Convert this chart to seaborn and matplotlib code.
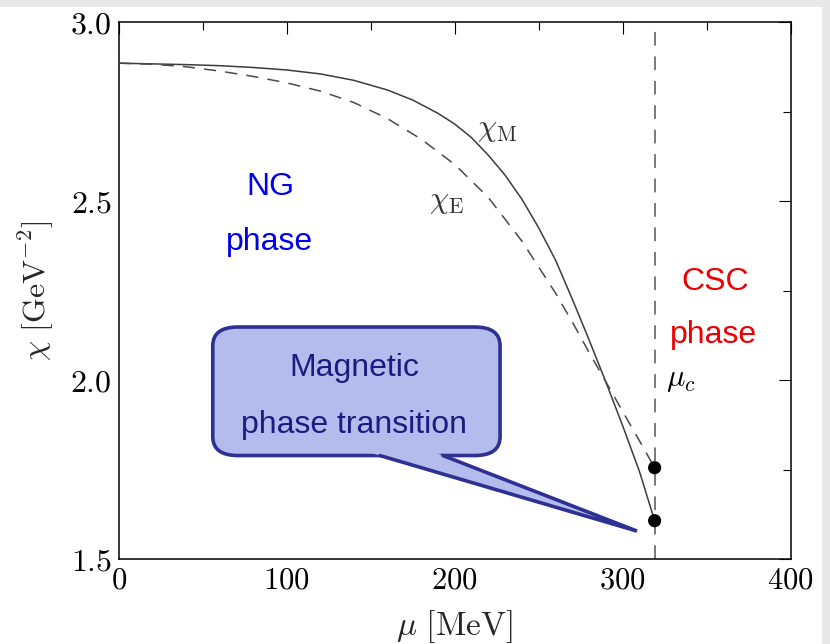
import numpy as np
import pandas as pd
import seaborn as sns
import matplotlib
matplotlib.use("Agg")
import matplotlib.pyplot as plt
from matplotlib.patches import FancyBboxPatch, Polygon, Rectangle
from matplotlib.ticker import FuncFormatter, MultipleLocator

# ---- data ----
mu_M = [0, 20, 40, 60, 80, 100, 120, 140, 160, 175, 190, 200, 210, 220, 230, 240, 250,
        260, 270, 280, 290, 300, 310, 319]
chi_M = [2.885, 2.883, 2.881, 2.878, 2.873, 2.866, 2.855, 2.837, 2.810, 2.782, 2.745,
         2.715, 2.677, 2.628, 2.572, 2.505, 2.425, 2.335, 2.226, 2.112, 1.994, 1.872,
         1.744, 1.607]
mu_E = [0, 20, 40, 60, 80, 100, 120, 140, 160, 180, 200, 220, 240, 260, 270, 280, 290,
        300, 310, 319]
chi_E = [2.885, 2.882, 2.875, 2.863, 2.848, 2.830, 2.807, 2.775, 2.730, 2.673, 2.602,
         2.510, 2.388, 2.243, 2.162, 2.077, 1.995, 1.912, 1.830, 1.755]
mu_c = 319
end_points_chi = [1.755, 1.607]
x_ticks = [0, 100, 200, 300, 400]
y_ticks = [1.5, 2.0, 2.5, 3.0]

df_M = pd.DataFrame({"mu": mu_M, "chi": chi_M})
df_E = pd.DataFrame({"mu": mu_E, "chi": chi_E})
df_pts = pd.DataFrame({"mu": [mu_c, mu_c], "chi": end_points_chi})

sns.set_style("white")
plt.rcParams["mathtext.fontset"] = "cm"
plt.rcParams["font.family"] = ["Liberation Sans", "DejaVu Sans"]

fig = plt.figure(figsize=(8.3, 6.44), dpi=100, facecolor="#e8e8e8")
fig.patches.append(Rectangle((0, 0), 822 / 830, 637 / 644, transform=fig.transFigure,
                             facecolor="white", edgecolor="none", zorder=-5))
ax = fig.add_axes([118.7 / 830, 1 - 559 / 644, 672 / 830, 537 / 644])
ax.set_zorder(1)
ax.set_facecolor("white")

sns.lineplot(data=df_M, x="mu", y="chi", ax=ax, color="#3c3c3c", lw=1.1, zorder=3)
sns.lineplot(data=df_E, x="mu", y="chi", ax=ax, color="#4a4a4a", lw=1.1, zorder=3)
ax.lines[-1].set_dashes([8, 6])
ax.axvline(mu_c, color="#555555", lw=1.1, dashes=[9, 7], zorder=2)
sns.scatterplot(data=df_pts, x="mu", y="chi", ax=ax, color="black", s=90,
                edgecolor="none", zorder=6)

ax.set_xlim(0, 400)
ax.set_ylim(1.5, 3.0)
ax.set_xticks(x_ticks)
ax.set_yticks(y_ticks)
ax.xaxis.set_minor_locator(MultipleLocator(50))
ax.yaxis.set_minor_locator(MultipleLocator(0.25))
ax.xaxis.set_major_formatter(FuncFormatter(lambda v, p: r"$%d$" % v))
ax.yaxis.set_major_formatter(FuncFormatter(lambda v, p: r"$%.1f$" % v))
ax.tick_params(which="both", direction="in", top=True, right=True, colors="black",
               width=0.8)
ax.tick_params(axis="x", labelsize=22)
ax.tick_params(axis="y", labelsize=23)
ax.tick_params(which="major", length=8.6, pad=5)
ax.tick_params(which="minor", length=5.8)
for s in ax.spines.values():
    s.set_color("black")
    s.set_linewidth(1.1)

ax.set_xlabel(r"$\mu\ [\mathrm{MeV}]$", fontsize=24, labelpad=9)
ax.set_ylabel(r"$\chi\ [\mathrm{GeV}^{-2}]$", fontsize=23, labelpad=10)

# curve labels
ax.text(225, 2.701, r"$\chi_{\mathrm{M}}$", fontsize=22, ha="center", va="center", color="#333333")
ax.text(195, 2.50, r"$\chi_{\mathrm{E}}$", fontsize=22, ha="center", va="center", color="#333333")
ax.text(334.6, 2.003, r"$\mu_c$", fontsize=22, ha="center", va="center", color="black")

# phase labels
ax.text(90, 2.517, "NG", fontsize=23, color="#0000ee", ha="center", va="baseline")
ax.text(90, 2.363, "phase", fontsize=23, color="#0000ee", ha="center", va="baseline")
ax.text(355, 2.251, "CSC", fontsize=23, color="#ee0000", ha="center", va="baseline")
ax.text(354, 2.103, "phase", fontsize=23, color="#ee0000", ha="center", va="baseline")

# callout
fill_c = "#b4bcee"
edge_c = "#2e3192"
box = FancyBboxPatch((56.0, 1.789), 171.0, 0.359,
                     boxstyle="round,pad=0,rounding_size=15",
                     mutation_aspect=0.6 / 172,
                     facecolor=fill_c, edgecolor=edge_c, lw=2.6, zorder=7)
ax.add_patch(box)
base_l = np.array([155.5, 1.789])
base_r = np.array([193.0, 1.789])
tip = np.array([308.5, 1.578])
ext_l = base_l + 0.06 * (base_l - tip)
ext_r = base_r + 0.08 * (base_r - tip)
tail_fill = Polygon([ext_l, tip, ext_r], closed=True,
                    facecolor=fill_c, edgecolor="none", zorder=8)
ax.add_patch(tail_fill)
ax.plot([base_l[0], tip[0], base_r[0]], [base_l[1], tip[1], base_r[1]], color=edge_c,
        lw=2.6, solid_joinstyle="miter", zorder=9)
ax.text(140, 2.012, "Magnetic", fontsize=23, color="#1c1c80", ha="center", va="baseline", zorder=10)
ax.text(140, 1.853, "phase transition", fontsize=23, color="#1c1c80", ha="center", va="baseline", zorder=10)

fig.savefig("out.png", dpi=100, facecolor=fig.get_facecolor())
